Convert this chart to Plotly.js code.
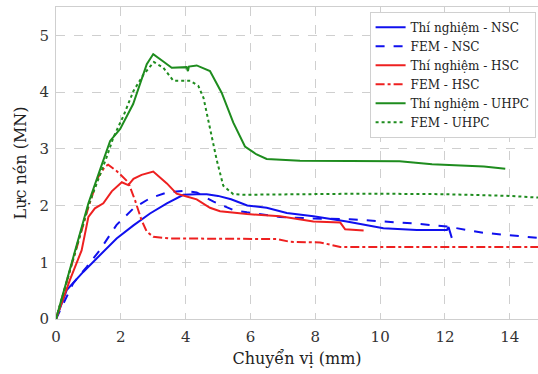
<!DOCTYPE html>
<html>
<head>
<meta charset="utf-8">
<script src="https://cdn.plot.ly/plotly-3.0.1.min.js"></script>
<style>html,body{margin:0;padding:0;background:#fff;}#chart{width:538px;height:374px;}</style>
</head>
<body>
<div id="chart"></div>
<script>
// Thí nghiệm - NSC
const nscExpX = [0, 0.33, 0.84, 1.36, 1.87, 2.39, 2.9, 3.42, 3.93, 4.34, 4.65, 5.0, 5.4, 5.9, 6.5, 7.12, 7.94, 8.97, 9.38, 10.1, 11.13, 12.06, 12.11, 12.21];
const nscExpY = [0, 0.51, 0.83, 1.12, 1.42, 1.65, 1.86, 2.04, 2.19, 2.2, 2.2, 2.17, 2.11, 2.0, 1.96, 1.87, 1.81, 1.72, 1.68, 1.6, 1.57, 1.57, 1.62, 1.43];
// FEM - NSC
const nscFemX = [0, 0.53, 0.95, 1.36, 1.87, 2.39, 2.9, 3.42, 3.93, 4.14, 4.34, 4.86, 5.47, 5.89, 6.91, 7.94, 9.07, 10.1, 11.13, 12.06, 13.19, 14.87];
const nscFemY = [0, 0.63, 0.92, 1.22, 1.66, 1.95, 2.13, 2.23, 2.26, 2.25, 2.23, 2.07, 1.92, 1.88, 1.8, 1.77, 1.76, 1.72, 1.68, 1.63, 1.52, 1.43];
// Thí nghiệm - HSC
const hscExpX = [0, 0.43, 0.79, 1.0, 1.2, 1.46, 1.72, 2.03, 2.23, 2.39, 2.64, 3.0, 3.42, 3.72, 4.03, 4.34, 4.75, 5.06, 5.89, 6.91, 7.94, 8.77, 8.92, 9.49];
const hscExpY = [0, 0.69, 1.21, 1.8, 1.95, 2.04, 2.25, 2.41, 2.36, 2.47, 2.54, 2.6, 2.39, 2.21, 2.16, 2.11, 1.96, 1.9, 1.85, 1.81, 1.72, 1.7, 1.58, 1.56];
// FEM - HSC
const hscFemX = [0, 0.5, 1.0, 1.3, 1.5, 1.61, 1.87, 2.23, 2.44, 2.64, 2.8, 3.0, 3.52, 6.81, 7.22, 8.15, 8.46, 8.77, 14.87];
const hscFemY = [0, 0.97, 1.97, 2.5, 2.68, 2.72, 2.61, 2.41, 2.09, 1.74, 1.54, 1.45, 1.42, 1.41, 1.36, 1.35, 1.31, 1.27, 1.27];
// Thí nghiệm - UHPC
const uhpcExpX = [0, 0.5, 1.0, 1.4, 1.67, 1.98, 2.38, 2.8, 3.0, 3.31, 3.57, 4.03, 4.07, 4.1, 4.34, 4.75, 5.11, 5.47, 5.83, 6.19, 6.5, 7.53, 10.6, 11.6, 13.2, 13.86];
const uhpcExpY = [0, 1.03, 2.04, 2.7, 3.14, 3.35, 3.79, 4.49, 4.67, 4.54, 4.43, 4.44, 4.37, 4.45, 4.47, 4.37, 3.99, 3.46, 3.04, 2.9, 2.82, 2.79, 2.78, 2.73, 2.69, 2.65];
// FEM - UHPC
const uhpcFemX = [0, 0.5, 1.0, 1.56, 1.77, 2.08, 2.39, 2.7, 3.02, 3.31, 3.62, 4.14, 4.39, 4.55, 4.75, 4.96, 5.16, 5.47, 5.8, 7.0, 9.6, 12.0, 14.0, 14.87];
const uhpcFemY = [0, 1.0, 2.0, 2.85, 3.2, 3.58, 4.02, 4.31, 4.53, 4.43, 4.2, 4.2, 4.11, 3.9, 3.37, 2.8, 2.35, 2.2, 2.19, 2.2, 2.21, 2.2, 2.17, 2.14];

const names = ['Thí nghiệm - NSC', 'FEM - NSC', 'Thí nghiệm - HSC', 'FEM - HSC', 'Thí nghiệm - UHPC', 'FEM - UHPC'];

const BLUE = '#1010ee', RED = '#ee2020', GREEN = '#1e8c1e';
const mk = (x, y, name, color, dash, w) => ({x, y, name, type: 'scatter', mode: 'lines', line: {color, dash, width: w || 2}});
const data = [
  mk(nscExpX, nscExpY, names[0], BLUE, 'solid'),
  mk(nscFemX, nscFemY, names[1], BLUE, 'dash'),
  mk(hscExpX, hscExpY, names[2], RED, 'solid'),
  mk(hscFemX, hscFemY, names[3], RED, 'dashdot'),
  mk(uhpcExpX, uhpcExpY, names[4], GREEN, 'solid'),
  mk(uhpcFemX, uhpcFemY, names[5], GREEN, 'dot'),
];

const FONT = 'DejaVu Serif';
const layout = {
  width: 538, height: 374,
  margin: {l: 56, r: 0, t: 7, b: 55},
  paper_bgcolor: '#fff', plot_bgcolor: '#fff',
  font: {family: FONT, color: '#333', size: 15},
  showlegend: true,
  legend: {x: 0.995, xanchor: 'right', y: 0.985, yanchor: 'top', bgcolor: '#fff', bordercolor: '#d0d0d0', borderwidth: 1,
           font: {family: FONT, size: 12, color: '#222'}, itemwidth: 30, tracegroupgap: 0},
  xaxis: {range: [0, 14.87], tickvals: [0, 2, 4, 6, 8, 10, 12, 14], ticks: '', showgrid: true, gridcolor: '#cfcfcf', griddash: 'dash', gridwidth: 1,
          zeroline: false, showline: true, linecolor: '#cfcfcf', mirror: true, tickfont: {family: FONT, size: 15, color: '#333'}, ticklabelstandoff: 4,
          title: {text: 'Chuyển vị (mm)', font: {family: FONT, size: 16, color: '#222'}, standoff: 7}},
  yaxis: {range: [0, 5.5], tickvals: [0, 1, 2, 3, 4, 5], ticks: '', showgrid: true, gridcolor: '#cfcfcf', griddash: 'dash', gridwidth: 1,
          zeroline: false, showline: true, linecolor: '#cfcfcf', mirror: true, tickfont: {family: FONT, size: 15, color: '#333'}, ticklabelstandoff: 3,
          title: {text: 'Lực nén (MN)', font: {family: FONT, size: 16, color: '#222'}, standoff: 8}},
};
Plotly.newPlot('chart', data, layout, {displayModeBar: false, staticPlot: true});
</script>
</body>
</html>
